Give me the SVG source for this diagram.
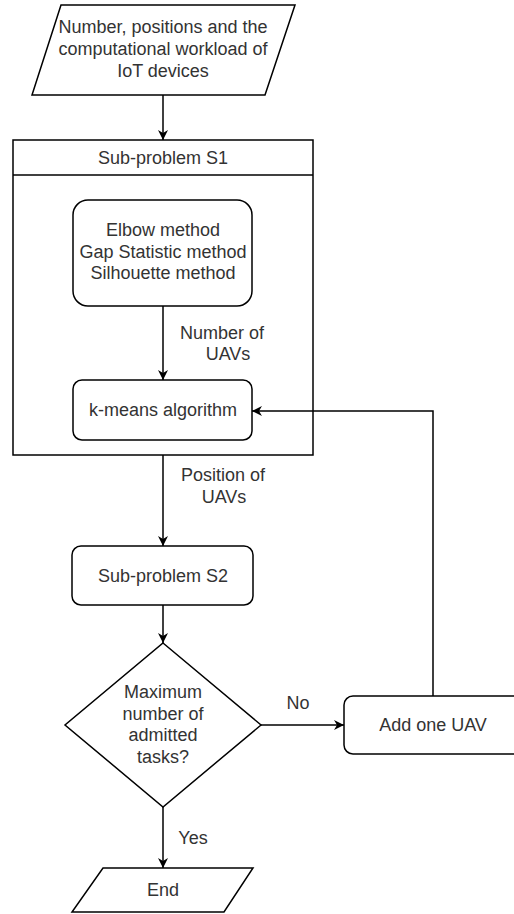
<svg xmlns="http://www.w3.org/2000/svg" width="514" height="914" viewBox="0 0 514 914">
<defs>
<marker id="arr" viewBox="0 0 10 10" refX="10" refY="5" markerWidth="10" markerHeight="10" markerUnits="userSpaceOnUse" orient="auto">
<path d="M0,0 L10,5 L0,10 L3,5 Z" fill="#000"/>
</marker>
<style>
.s{fill:#fff;stroke:#000;stroke-width:1.5}
.t{font-family:"Liberation Sans",Arial,sans-serif;font-size:18px;fill:#333;text-anchor:middle}
.e{fill:none;stroke:#000;stroke-width:1.5}
</style>
</defs>
<rect width="514" height="914" fill="#fff"/>
<g id="input">
<polygon class="s" points="61,5 295,5 265,95 32,95"/>
<text class="t" x="163" y="33">Number, positions and the</text>
<text class="t" x="163" y="55">computational workload of</text>
<text class="t" x="163" y="77">IoT devices</text>
</g>
<g id="s1">
<rect class="s" x="13" y="140" width="300" height="315"/>
<line class="e" x1="13" y1="175" x2="313" y2="175"/>
<text class="t" x="163" y="164">Sub-problem S1</text>
</g>
<g id="methods">
<rect class="s" x="73" y="200" width="179" height="106" rx="15"/>
<text class="t" x="163" y="236">Elbow method</text>
<text class="t" x="163" y="258">Gap Statistic method</text>
<text class="t" x="163" y="279">Silhouette method</text>
</g>
<g id="kmeans">
<rect class="s" x="73" y="380" width="179" height="60" rx="9"/>
<text class="t" x="163" y="416">k-means algorithm</text>
</g>
<g id="s2">
<rect class="s" x="72" y="546" width="181" height="59" rx="9"/>
<text class="t" x="163" y="582">Sub-problem S2</text>
</g>
<g id="decision">
<polygon class="s" points="163,643 261,725 163,807 65,725"/>
<text class="t" x="163" y="698">Maximum</text>
<text class="t" x="163" y="720">number of</text>
<text class="t" x="163" y="741">admitted</text>
<text class="t" x="163" y="763">tasks?</text>
</g>
<g id="add">
<rect class="s" x="344" y="696" width="182" height="58" rx="9"/>
<text class="t" x="433" y="731">Add one UAV</text>
</g>
<g id="end">
<polygon class="s" points="103,868 253,868 224,912 72,912"/>
<text class="t" x="163" y="896">End</text>
</g>
<g id="connectors">
<line class="e" x1="163" y1="95" x2="163" y2="140" marker-end="url(#arr)"/>
<line class="e" x1="163" y1="306" x2="163" y2="380" marker-end="url(#arr)"/>
<line class="e" x1="163" y1="455" x2="163" y2="546" marker-end="url(#arr)"/>
<line class="e" x1="163" y1="605" x2="163" y2="643" marker-end="url(#arr)"/>
<line class="e" x1="163" y1="807" x2="163" y2="868" marker-end="url(#arr)"/>
<line class="e" x1="261" y1="725" x2="344" y2="725" marker-end="url(#arr)"/>
<polyline class="e" points="433,696 433,411 252,411" marker-end="url(#arr)"/>
<text class="t" x="222" y="339">Number of</text>
<text class="t" x="228" y="360">UAVs</text>
<text class="t" x="223" y="481">Position of</text>
<text class="t" x="224" y="503">UAVs</text>
<text class="t" x="193" y="844">Yes</text>
<text class="t" x="298" y="709">No</text>
</g>
</svg>
